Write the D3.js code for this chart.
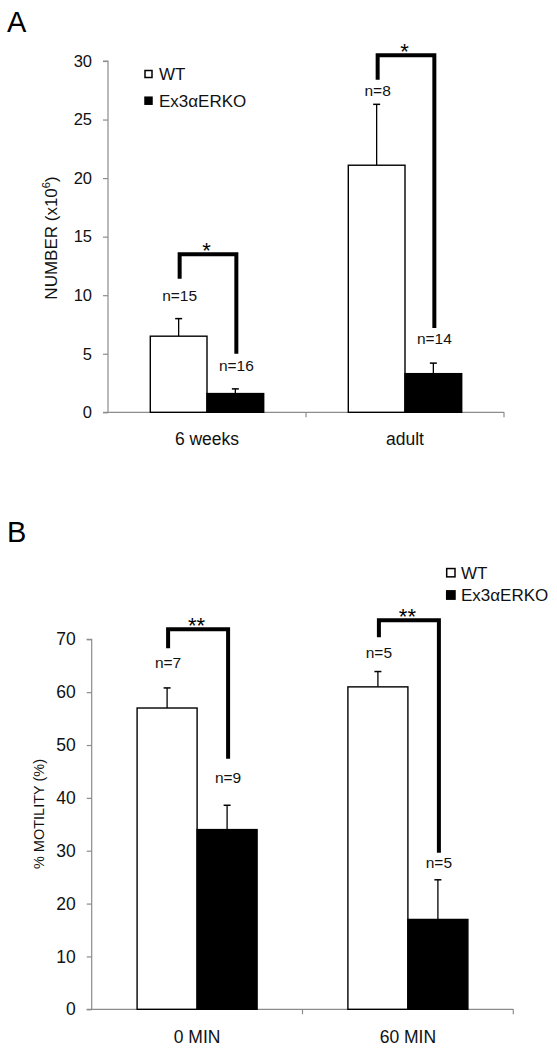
<!DOCTYPE html>
<html>
<head>
<meta charset="utf-8">
<script src="https://cdn.jsdelivr.net/npm/d3@7"></script>
<style>
  html, body { margin: 0; padding: 0; background: #fff; }
  svg { display: block; }
</style>
</head>
<body>
<script>
// ---------- Panel A data ----------
const catsA = ["6 weeks", "adult"];
const wtA = [6.5, 21.1];
const wtErrA = [1.5, 5.2];
const koA = [1.6, 3.3];
const koErrA = [0.4, 0.9];
const nWtA = ["n=15", "n=8"];
const nKoA = ["n=16", "n=14"];
const nWtPosA = [9.5, 27.0];      // label baseline, in axis units
const nKoPosA = [3.5, 5.8];
const bracketsA = [[11.4, 13.5, 5.0], [28.4, 30.5, 7.2]]; // [left end, top, right end]
const starsA = ["*", "*"];
const ticksA = [0, 5, 10, 15, 20, 25, 30];

// ---------- Panel B data ----------
const catsB = ["0 MIN", "60 MIN"];
const wtB = [57, 61];
const wtErrB = [3.8, 2.9];
const koB = [34, 17];
const koErrB = [4.6, 7.5];
const nWtB = ["n=7", "n=5"];
const nKoB = ["n=9", "n=5"];
const nWtPosB = [64.5, 66.4];
const nKoPosB = [42.8, 26.7];
const bracketsB = [[68.3, 71.9, 47.4], [70.4, 73.6, 29.6]];
const starsB = ["**", "**"];
const ticksB = [0, 10, 20, 30, 40, 50, 60, 70];

const seriesNames = ["WT", "Ex3αERKO"];

const W = 557, H = 1050;
const svg = d3.select("body").append("svg")
  .attr("width", W).attr("height", H)
  .style("font-family", "'Liberation Sans', Arial, Helvetica, sans-serif");

function drawPanel(p) {
  const g = svg.append("g");
  const y = d3.scaleLinear().domain([0, p.ticks[p.ticks.length - 1]]).range([p.bottom, p.top]);
  const x0 = d3.scaleBand().domain(p.cats).range([p.left, p.right]).padding(0);
  const bw = x0.bandwidth();
  const x1 = d3.scaleBand().domain(["wt", "ko"])
    .range([(bw - 2 * p.barW) / 2, (bw + 2 * p.barW) / 2]).padding(0);

  // panel letter
  g.append("text").attr("x", 7).attr("y", p.labelY)
    .attr("font-size", 29).attr("fill", "#000").text(p.label);

  // y axis
  const yAxis = d3.axisLeft(y).tickValues(p.ticks).tickSize(5).tickPadding(p.tickPad).tickFormat(d3.format("d"));
  const ya = g.append("g").attr("transform", `translate(${p.left},0)`).call(yAxis);
  ya.select(".domain").attr("stroke", "#8c8c8c").attr("stroke-width", 1.2).attr("d", `M-5,${p.bottom}H0V${p.top}H-5`);
  ya.selectAll(".tick line").attr("stroke", "#8c8c8c").attr("stroke-width", 1.2);
  ya.selectAll(".tick text").attr("font-size", p.tickFont).attr("fill", "#111")
    .style("font-family", "'Liberation Sans', Arial, sans-serif");

  // x axis line + boundary ticks
  g.append("line").attr("x1", p.left).attr("x2", p.right).attr("y1", y(0)).attr("y2", y(0))
    .attr("stroke", "#8c8c8c").attr("stroke-width", 1.2);
  const bounds = [x0(p.cats[0])].concat(p.cats.map(c => x0(c) + bw));
  g.selectAll(".xtick").data(bounds.slice(1)).join("line")
    .attr("x1", d => d).attr("x2", d => d).attr("y1", y(0)).attr("y2", y(0) + 5)
    .attr("stroke", "#8c8c8c").attr("stroke-width", 1.2);
  g.selectAll(".xlab").data(p.cats).join("text")
    .attr("x", d => x0(d) + bw / 2).attr("y", p.xLabelY)
    .attr("text-anchor", "middle").attr("font-size", 17.5).attr("fill", "#111").text(d => d);

  // bars
  const rows = p.cats.map((c, i) => ({
    cat: c, i,
    wt: p.wt[i], wtErr: p.wtErr[i], ko: p.ko[i], koErr: p.koErr[i]
  }));
  const cx = (c, s) => x0(c) + x1(s) + x1.bandwidth() / 2;

  rows.forEach(r => {
    [["wt", r.wt, r.wtErr, "#fff"], ["ko", r.ko, r.koErr, "#000"]].forEach(([s, v, e, fill]) => {
      const xc = cx(r.cat, s);
      // error bar (upper)
      g.append("line").attr("x1", xc).attr("x2", xc).attr("y1", y(v)).attr("y2", y(v + e))
        .attr("stroke", "#000").attr("stroke-width", 1.3);
      g.append("line").attr("x1", xc - 3.5).attr("x2", xc + 3.5).attr("y1", y(v + e)).attr("y2", y(v + e))
        .attr("stroke", "#000").attr("stroke-width", 1.5);
    });
  });
  g.selectAll(".barwt").data(rows).join("rect")
    .attr("x", d => x0(d.cat) + x1("wt")).attr("width", x1.bandwidth())
    .attr("y", d => y(d.wt)).attr("height", d => y(0) - y(d.wt))
    .attr("fill", "#fff").attr("stroke", "#000").attr("stroke-width", 1.4);
  g.selectAll(".barko").data(rows).join("rect")
    .attr("x", d => x0(d.cat) + x1("ko")).attr("width", x1.bandwidth())
    .attr("y", d => y(d.ko)).attr("height", d => y(0) - y(d.ko))
    .attr("fill", "#000").attr("stroke", "#000").attr("stroke-width", 1.4);

  // n labels
  g.selectAll(".nwt").data(rows).join("text")
    .attr("x", d => cx(d.cat, "wt") + 1).attr("y", d => y(p.nWtPos[d.i]))
    .attr("text-anchor", "middle").attr("font-size", 15.5).attr("fill", "#111")
    .text(d => p.nWt[d.i]);
  g.selectAll(".nko").data(rows).join("text")
    .attr("x", d => cx(d.cat, "ko") + 1).attr("y", d => y(p.nKoPos[d.i]))
    .attr("text-anchor", "middle").attr("font-size", 15.5).attr("fill", "#111")
    .text(d => p.nKo[d.i]);

  // significance brackets
  rows.forEach(r => {
    const b = p.brackets[r.i];
    const xl = cx(r.cat, "wt") + 1, xr = cx(r.cat, "ko") + 1;
    g.append("path")
      .attr("d", `M${xl},${y(b[0])}V${y(b[1])}H${xr}V${y(b[2])}`)
      .attr("fill", "none").attr("stroke", "#000").attr("stroke-width", 4)
      .attr("stroke-linejoin", "miter").attr("stroke-linecap", "butt");
    g.append("text").attr("x", (xl + xr) / 2 - 1.5).attr("y", y(b[1]) + 4)
      .attr("text-anchor", "middle").attr("font-size", 22).attr("fill", "#000")
      .text(p.stars[r.i]);
  });

  // y title
  const t = g.append("text")
    .attr("transform", `translate(${p.titleX},${p.titleY}) rotate(-90)`)
    .attr("text-anchor", "middle").attr("font-size", p.titleFont).attr("fill", "#111");
  p.title.forEach(part => {
    const ts = t.append("tspan").text(part.t);
    if (part.sup) ts.attr("font-size", p.titleFont * 0.65).attr("dy", -p.titleFont * 0.4);
    if (part.after) ts.attr("dy", p.titleFont * 0.4);
  });

  // legend
  seriesNames.forEach((name, i) => {
    const ly = p.legendY[i];
    g.append("rect").attr("x", p.legendX).attr("y", ly - p.legendSize / 2)
      .attr("width", p.legendSize).attr("height", p.legendSize)
      .attr("fill", i === 0 ? "#fff" : "#000").attr("stroke", "#000").attr("stroke-width", 1.5);
    g.append("text").attr("x", p.legendTextX).attr("y", ly).attr("dy", "0.36em")
      .attr("font-size", 17).attr("fill", "#111").text(name);
  });
}

drawPanel({
  label: "A", labelY: 32,
  cats: catsA, wt: wtA, wtErr: wtErrA, ko: koA, koErr: koErrA,
  nWt: nWtA, nKo: nKoA, nWtPos: nWtPosA, nKoPos: nKoPosA,
  brackets: bracketsA, stars: starsA, ticks: ticksA,
  left: 108, right: 504, top: 61, bottom: 412.3, barW: 56.7,
  tickFont: 16.5, tickPad: 11, xLabelY: 445,
  title: [{t: "NUMBER (x10"}, {t: "6", sup: true}, {t: ")", after: true}],
  titleX: 57, titleY: 238, titleFont: 17,
  legendX: 145, legendSize: 7, legendY: [74, 100.7], legendTextX: 159
});

drawPanel({
  label: "B", labelY: 542,
  cats: catsB, wt: wtB, wtErr: wtErrB, ko: koB, koErr: koErrB,
  nWt: nWtB, nKo: nKoB, nWtPos: nWtPosB, nKoPos: nKoPosB,
  brackets: bracketsB, stars: starsB, ticks: ticksB,
  left: 91.7, right: 513.3, top: 639.3, bottom: 1009.3, barW: 60,
  tickFont: 17.5, tickPad: 11, xLabelY: 1042.5,
  title: [{t: "% MOTILITY (%)"}],
  titleX: 44, titleY: 814, titleFont: 14.5,
  legendX: 446.7, legendSize: 8.3, legendY: [572.7, 595], legendTextX: 461
});
</script>
</body>
</html>
